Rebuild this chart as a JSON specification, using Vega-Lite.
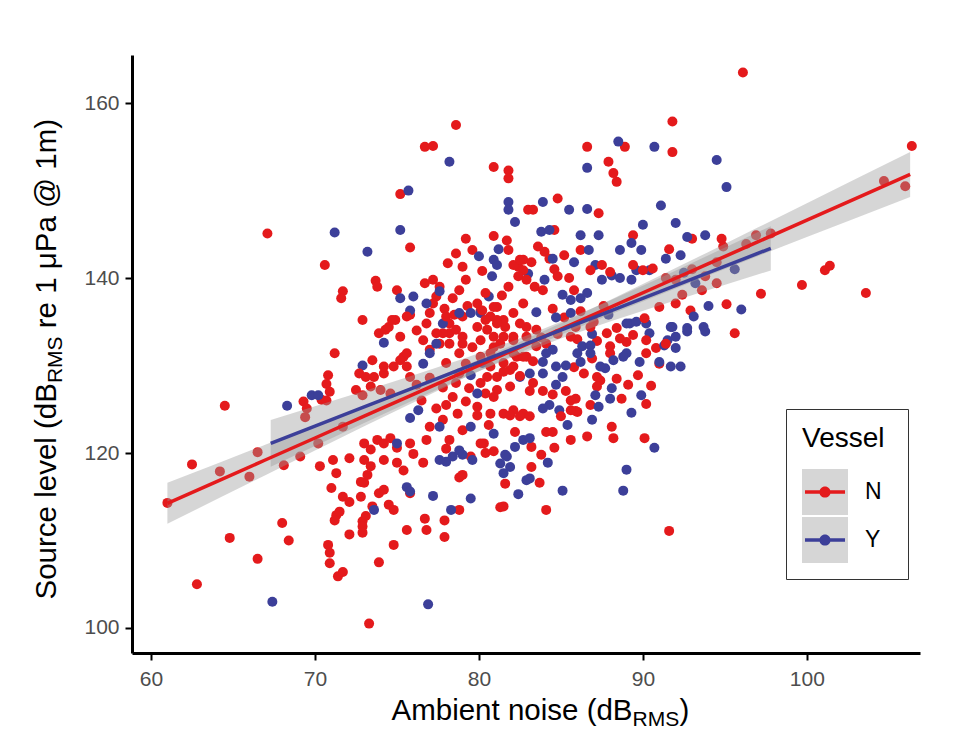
{
  "$schema": "https://vega.github.io/schema/vega-lite/v6.json",
  "width": 788,
  "height": 598,
  "autosize": {"type": "none"},
  "padding": {"left": 132, "top": 55, "right": 53, "bottom": 80},
  "background": "white",
  "config": {
    "view": {"stroke": null},
    "font": "Liberation Sans",
    "axis": {"grid": false, "labelFont": "Liberation Sans", "titleFont": "Liberation Sans", "titleFontWeight": "normal", "titleColor": "#000000"}
  },
  "datasets": {
    "points": [
      {"Vessel":"N","noise":61.0,"level":114.3},{"Vessel":"N","noise":62.5,"level":118.7},{"Vessel":"N","noise":62.8,"level":105.0},{"Vessel":"N","noise":64.5,"level":125.4},{"Vessel":"N","noise":64.2,"level":117.9},{"Vessel":"N","noise":64.8,"level":110.3},{"Vessel":"N","noise":66.5,"level":120.1},{"Vessel":"N","noise":66.0,"level":117.3},{"Vessel":"N","noise":66.5,"level":107.9},{"Vessel":"N","noise":67.1,"level":145.1},{"Vessel":"N","noise":68.0,"level":112.0},{"Vessel":"N","noise":68.4,"level":110.0},{"Vessel":"N","noise":73.3,"level":100.5},{"Vessel":"N","noise":70.8,"level":109.5},{"Vessel":"N","noise":70.9,"level":108.6},{"Vessel":"N","noise":70.9,"level":107.4},{"Vessel":"N","noise":71.4,"level":105.9},{"Vessel":"N","noise":71.7,"level":106.4},{"Vessel":"N","noise":73.9,"level":107.5},{"Vessel":"N","noise":72.1,"level":110.7},{"Vessel":"N","noise":72.9,"level":110.9},{"Vessel":"N","noise":74.8,"level":109.5},{"Vessel":"N","noise":75.6,"level":111.2},{"Vessel":"N","noise":76.7,"level":112.5},{"Vessel":"N","noise":76.8,"level":111.2},{"Vessel":"N","noise":77.9,"level":112.3},{"Vessel":"N","noise":77.9,"level":110.4},{"Vessel":"N","noise":81.3,"level":113.8},{"Vessel":"N","noise":78.8,"level":113.5},{"Vessel":"N","noise":71.0,"level":116.0},{"Vessel":"N","noise":71.7,"level":115.0},{"Vessel":"N","noise":72.1,"level":114.4},{"Vessel":"N","noise":72.8,"level":115.0},{"Vessel":"N","noise":73.0,"level":116.6},{"Vessel":"N","noise":73.9,"level":115.4},{"Vessel":"N","noise":74.2,"level":115.8},{"Vessel":"N","noise":71.3,"level":112.9},{"Vessel":"N","noise":71.5,"level":113.3},{"Vessel":"N","noise":71.2,"level":112.3},{"Vessel":"N","noise":72.9,"level":112.2},{"Vessel":"N","noise":73.1,"level":112.8},{"Vessel":"N","noise":74.5,"level":114.1},{"Vessel":"N","noise":74.8,"level":113.5},{"Vessel":"N","noise":75.8,"level":115.4},{"Vessel":"N","noise":78.8,"level":117.2},{"Vessel":"N","noise":70.3,"level":118.5},{"Vessel":"N","noise":71.3,"level":117.7},{"Vessel":"N","noise":71.1,"level":119.2},{"Vessel":"N","noise":72.1,"level":119.4},{"Vessel":"N","noise":72.8,"level":116.7},{"Vessel":"N","noise":73.5,"level":113.9},{"Vessel":"N","noise":72.9,"level":111.6},
      {"Vessel":"N","noise":71.2,"level":131.4},{"Vessel":"N","noise":70.8,"level":128.9},{"Vessel":"N","noise":70.7,"level":127.9},{"Vessel":"N","noise":70.9,"level":127.0},{"Vessel":"N","noise":70.4,"level":126.1},{"Vessel":"N","noise":70.7,"level":126.0},{"Vessel":"N","noise":69.3,"level":125.9},{"Vessel":"N","noise":69.5,"level":125.1},{"Vessel":"N","noise":72.5,"level":127.2},{"Vessel":"N","noise":72.9,"level":126.6},{"Vessel":"N","noise":73.6,"level":128.7},{"Vessel":"N","noise":74.2,"level":129.1},{"Vessel":"N","noise":74.8,"level":129.9},{"Vessel":"N","noise":75.4,"level":131.0},{"Vessel":"N","noise":75.6,"level":131.4},{"Vessel":"N","noise":73.9,"level":133.7},{"Vessel":"N","noise":74.3,"level":134.1},{"Vessel":"N","noise":73.0,"level":121.1},{"Vessel":"N","noise":73.4,"level":120.4},{"Vessel":"N","noise":73.8,"level":121.5},{"Vessel":"N","noise":74.2,"level":121.1},{"Vessel":"N","noise":74.6,"level":121.7},{"Vessel":"N","noise":75.0,"level":120.6},{"Vessel":"N","noise":73.0,"level":119.2},{"Vessel":"N","noise":73.4,"level":118.5},{"Vessel":"N","noise":73.2,"level":117.5},{"Vessel":"N","noise":74.2,"level":119.2},{"Vessel":"N","noise":75.0,"level":118.9},{"Vessel":"N","noise":75.4,"level":118.0},{"Vessel":"N","noise":76.0,"level":119.9},{"Vessel":"N","noise":75.8,"level":121.1},{"Vessel":"N","noise":76.6,"level":118.9},{"Vessel":"N","noise":76.8,"level":121.5},{"Vessel":"N","noise":77.0,"level":123.0},{"Vessel":"N","noise":77.4,"level":125.1},{"Vessel":"N","noise":77.8,"level":123.8},{"Vessel":"N","noise":78.4,"level":126.4},{"Vessel":"N","noise":78.7,"level":124.5},{"Vessel":"N","noise":79.0,"level":122.6},{"Vessel":"N","noise":79.9,"level":125.3},{"Vessel":"N","noise":80.3,"level":121.1},{"Vessel":"N","noise":80.7,"level":124.5},{"Vessel":"N","noise":81.1,"level":127.2},{"Vessel":"N","noise":81.5,"level":124.5},{"Vessel":"N","noise":82.1,"level":124.9},{"Vessel":"N","noise":82.7,"level":124.5},{"Vessel":"N","noise":81.9,"level":129.5},{"Vessel":"N","noise":82.3,"level":131.0},{"Vessel":"N","noise":81.1,"level":128.7},{"Vessel":"N","noise":80.1,"level":128.0},{"Vessel":"N","noise":80.9,"level":126.4},{"Vessel":"N","noise":78.8,"level":129.1},{"Vessel":"N","noise":78.0,"level":130.3},{"Vessel":"N","noise":77.0,"level":131.8},{"Vessel":"N","noise":76.6,"level":132.9},{"Vessel":"N","noise":77.6,"level":132.5},{"Vessel":"N","noise":78.2,"level":133.7},{"Vessel":"N","noise":79.0,"level":133.3},{"Vessel":"N","noise":80.1,"level":132.9},{"Vessel":"N","noise":80.9,"level":132.1},{"Vessel":"N","noise":81.5,"level":133.3},{"Vessel":"N","noise":79.5,"level":119.6},{"Vessel":"N","noise":79.0,"level":117.5},{"Vessel":"N","noise":78.0,"level":120.5},{"Vessel":"N","noise":78.2,"level":121.5},{"Vessel":"N","noise":81.6,"level":116.5},
      {"Vessel":"N","noise":70.6,"level":141.5},{"Vessel":"N","noise":71.7,"level":138.5},{"Vessel":"N","noise":71.6,"level":137.7},{"Vessel":"N","noise":73.7,"level":139.7},{"Vessel":"N","noise":73.8,"level":139.0},{"Vessel":"N","noise":72.9,"level":135.2},{"Vessel":"N","noise":74.5,"level":134.4},{"Vessel":"N","noise":74.9,"level":135.2},{"Vessel":"N","noise":75.0,"level":138.6},{"Vessel":"N","noise":75.8,"level":143.5},{"Vessel":"N","noise":75.2,"level":149.6},{"Vessel":"N","noise":76.7,"level":155.0},{"Vessel":"N","noise":77.2,"level":155.1},{"Vessel":"N","noise":78.6,"level":157.5},{"Vessel":"N","noise":80.9,"level":152.7},{"Vessel":"N","noise":81.8,"level":152.3},{"Vessel":"N","noise":81.8,"level":151.4},{"Vessel":"N","noise":83.0,"level":147.8},{"Vessel":"N","noise":75.8,"level":135.8},{"Vessel":"N","noise":76.7,"level":139.4},{"Vessel":"N","noise":77.2,"level":139.8},{"Vessel":"N","noise":77.6,"level":139.0},{"Vessel":"N","noise":77.4,"level":137.9},{"Vessel":"N","noise":77.2,"level":137.1},{"Vessel":"N","noise":78.1,"level":141.7},{"Vessel":"N","noise":78.6,"level":142.8},{"Vessel":"N","noise":79.2,"level":144.5},{"Vessel":"N","noise":79.6,"level":143.2},{"Vessel":"N","noise":79.0,"level":141.3},{"Vessel":"N","noise":79.2,"level":139.8},{"Vessel":"N","noise":78.8,"level":138.6},{"Vessel":"N","noise":78.4,"level":137.7},{"Vessel":"N","noise":79.0,"level":135.6},{"Vessel":"N","noise":79.9,"level":137.1},{"Vessel":"N","noise":80.1,"level":136.3},{"Vessel":"N","noise":80.7,"level":135.6},{"Vessel":"N","noise":81.1,"level":136.7},{"Vessel":"N","noise":81.5,"level":135.2},{"Vessel":"N","noise":82.1,"level":136.0},{"Vessel":"N","noise":82.7,"level":137.1},{"Vessel":"N","noise":82.9,"level":134.4},{"Vessel":"N","noise":81.8,"level":139.0},{"Vessel":"N","noise":82.4,"level":141.3},{"Vessel":"N","noise":82.7,"level":142.1},{"Vessel":"N","noise":77.8,"level":133.7},{"Vessel":"N","noise":78.2,"level":134.8},{"Vessel":"N","noise":79.0,"level":132.5},{"Vessel":"N","noise":82.1,"level":132.9},
      {"Vessel":"N","noise":77.0,"level":136.0},{"Vessel":"N","noise":77.9,"level":136.5},{"Vessel":"N","noise":78.5,"level":135.8},{"Vessel":"N","noise":79.3,"level":136.8},{"Vessel":"N","noise":76.2,"level":134.0},{"Vessel":"N","noise":80.2,"level":140.8},{"Vessel":"N","noise":81.4,"level":138.0},{"Vessel":"N","noise":83.2,"level":141.8},{"Vessel":"N","noise":83.6,"level":143.6},{"Vessel":"N","noise":84.6,"level":141.0},{"Vessel":"N","noise":80.9,"level":144.8},{"Vessel":"N","noise":85.2,"level":142.6},{"Vessel":"N","noise":76.2,"level":127.8},{"Vessel":"N","noise":77.0,"level":128.6},{"Vessel":"N","noise":77.8,"level":127.5},{"Vessel":"N","noise":78.6,"level":128.0},{"Vessel":"N","noise":79.4,"level":127.4},{"Vessel":"N","noise":76.5,"level":126.0},{"Vessel":"N","noise":79.2,"level":125.9},{"Vessel":"N","noise":80.4,"level":126.8},{"Vessel":"N","noise":80.6,"level":123.2},{"Vessel":"N","noise":78.0,"level":125.5},{"Vessel":"N","noise":80.9,"level":120.2},{"Vessel":"N","noise":82.2,"level":122.4},{"Vessel":"N","noise":83.8,"level":119.8},{"Vessel":"N","noise":84.6,"level":120.6},{"Vessel":"N","noise":85.6,"level":121.5},
      {"Vessel":"Y","noise":67.4,"level":103.0},{"Vessel":"Y","noise":76.9,"level":102.7},{"Vessel":"Y","noise":78.3,"level":113.5},{"Vessel":"Y","noise":79.5,"level":114.8},{"Vessel":"Y","noise":77.2,"level":115.1},{"Vessel":"Y","noise":75.6,"level":116.1},{"Vessel":"Y","noise":82.4,"level":115.3},{"Vessel":"Y","noise":73.6,"level":113.5},{"Vessel":"Y","noise":68.3,"level":125.4},{"Vessel":"Y","noise":69.8,"level":126.6},{"Vessel":"Y","noise":72.9,"level":130.0},{"Vessel":"Y","noise":74.2,"level":132.6},{"Vessel":"Y","noise":75.8,"level":124.0},{"Vessel":"Y","noise":77.6,"level":123.0},{"Vessel":"Y","noise":79.5,"level":123.0},{"Vessel":"Y","noise":80.9,"level":122.2},{"Vessel":"Y","noise":81.7,"level":119.6},{"Vessel":"Y","noise":81.3,"level":118.8},{"Vessel":"Y","noise":81.9,"level":118.4},{"Vessel":"Y","noise":81.5,"level":117.7},{"Vessel":"Y","noise":78.0,"level":119.0},{"Vessel":"Y","noise":78.4,"level":119.6},{"Vessel":"Y","noise":79.0,"level":119.8},{"Vessel":"Y","noise":79.9,"level":126.8},{"Vessel":"Y","noise":82.7,"level":121.5},{"Vessel":"Y","noise":82.9,"level":116.9},{"Vessel":"Y","noise":76.3,"level":124.9},{"Vessel":"Y","noise":78.2,"level":153.3},{"Vessel":"Y","noise":75.7,"level":150.0},{"Vessel":"Y","noise":75.2,"level":145.5},{"Vessel":"Y","noise":71.2,"level":145.2},{"Vessel":"Y","noise":73.2,"level":143.0},{"Vessel":"Y","noise":81.8,"level":148.7},{"Vessel":"Y","noise":81.8,"level":147.8},{"Vessel":"Y","noise":82.2,"level":146.4},{"Vessel":"Y","noise":81.2,"level":143.3},{"Vessel":"Y","noise":80.0,"level":142.5},{"Vessel":"Y","noise":80.9,"level":142.1},{"Vessel":"Y","noise":81.1,"level":141.5},{"Vessel":"Y","noise":80.8,"level":140.2},{"Vessel":"Y","noise":76.0,"level":137.9},{"Vessel":"Y","noise":75.2,"level":137.7},{"Vessel":"Y","noise":80.6,"level":137.9},{"Vessel":"Y","noise":79.5,"level":136.0},{"Vessel":"Y","noise":80.1,"level":136.0},{"Vessel":"Y","noise":77.8,"level":134.8},{"Vessel":"Y","noise":77.4,"level":132.5},{"Vessel":"Y","noise":75.8,"level":136.3},{"Vessel":"Y","noise":76.8,"level":137.1},{"Vessel":"Y","noise":77.6,"level":138.5},{"Vessel":"Y","noise":70.2,"level":126.6},{"Vessel":"Y","noise":77.0,"level":131.4},{"Vessel":"Y","noise":78.8,"level":136.0},{"Vessel":"Y","noise":77.6,"level":119.2},{"Vessel":"Y","noise":78.8,"level":120.3},{"Vessel":"Y","noise":79.6,"level":119.2},{"Vessel":"Y","noise":81.6,"level":119.8},{"Vessel":"Y","noise":83.1,"level":117.1},{"Vessel":"Y","noise":75.8,"level":115.6},{"Vessel":"Y","noise":75.0,"level":121.1},{"Vessel":"Y","noise":83.0,"level":140.5},{"Vessel":"Y","noise":84.0,"level":139.8},{"Vessel":"Y","noise":85.8,"level":141.8},{"Vessel":"Y","noise":76.6,"level":130.2},{"Vessel":"Y","noise":79.5,"level":128.9},{"Vessel":"Y","noise":80.2,"level":130.3},{"Vessel":"Y","noise":82.2,"level":120.7},{"Vessel":"Y","noise":84.2,"level":118.9},
      {"Vessel":"N","noise":96.1,"level":163.5},{"Vessel":"N","noise":91.8,"level":157.9},{"Vessel":"N","noise":91.8,"level":154.4},{"Vessel":"N","noise":86.6,"level":155.0},{"Vessel":"N","noise":88.9,"level":155.0},{"Vessel":"N","noise":87.9,"level":153.3},{"Vessel":"N","noise":88.2,"level":152.0},{"Vessel":"N","noise":88.4,"level":151.0},{"Vessel":"N","noise":84.8,"level":149.1},{"Vessel":"N","noise":83.3,"level":147.8},{"Vessel":"N","noise":87.3,"level":147.4},{"Vessel":"N","noise":84.6,"level":145.5},{"Vessel":"N","noise":81.7,"level":144.3},{"Vessel":"N","noise":81.8,"level":143.2},{"Vessel":"N","noise":84.0,"level":143.0},{"Vessel":"N","noise":84.3,"level":142.2},{"Vessel":"N","noise":86.2,"level":143.2},{"Vessel":"N","noise":89.4,"level":144.9},{"Vessel":"N","noise":91.6,"level":143.3},{"Vessel":"N","noise":93.0,"level":144.5},{"Vessel":"N","noise":94.8,"level":144.5},{"Vessel":"N","noise":94.9,"level":143.6},{"Vessel":"N","noise":96.3,"level":143.9},{"Vessel":"N","noise":96.9,"level":144.9},{"Vessel":"N","noise":97.8,"level":145.1},{"Vessel":"N","noise":94.5,"level":139.4},{"Vessel":"N","noise":92.4,"level":138.1},{"Vessel":"N","noise":95.6,"level":133.7},{"Vessel":"N","noise":97.2,"level":138.2},{"Vessel":"N","noise":99.7,"level":139.2},{"Vessel":"N","noise":101.1,"level":140.9},{"Vessel":"N","noise":101.4,"level":141.4},{"Vessel":"N","noise":103.6,"level":138.3},{"Vessel":"N","noise":106.4,"level":155.1},{"Vessel":"N","noise":104.7,"level":151.1},{"Vessel":"N","noise":106.0,"level":150.5},{"Vessel":"N","noise":90.2,"level":125.6},{"Vessel":"N","noise":90.1,"level":121.7},{"Vessel":"N","noise":91.6,"level":111.1},{"Vessel":"N","noise":88.1,"level":123.0},{"Vessel":"N","noise":88.2,"level":121.7},{"Vessel":"N","noise":86.6,"level":121.9},{"Vessel":"N","noise":84.1,"level":122.4},{"Vessel":"N","noise":84.5,"level":122.4},{"Vessel":"N","noise":83.2,"level":120.7},{"Vessel":"N","noise":83.2,"level":118.4},{"Vessel":"N","noise":83.7,"level":116.6},{"Vessel":"N","noise":84.1,"level":113.5},{"Vessel":"N","noise":81.5,"level":113.9},{"Vessel":"N","noise":91.0,"level":130.2},{"Vessel":"N","noise":90.2,"level":131.4},{"Vessel":"N","noise":90.8,"level":132.0},{"Vessel":"N","noise":87.4,"level":128.3},{"Vessel":"N","noise":87.2,"level":127.6},{"Vessel":"N","noise":85.9,"level":126.2},{"Vessel":"N","noise":86.0,"level":124.7},{"Vessel":"N","noise":86.4,"level":129.1},{"Vessel":"N","noise":89.0,"level":132.7},{"Vessel":"N","noise":88.0,"level":131.4},{"Vessel":"N","noise":81.9,"level":124.3},{"Vessel":"N","noise":82.5,"level":124.2},{"Vessel":"N","noise":83.1,"level":124.2},{"Vessel":"N","noise":79.9,"level":124.3},{"Vessel":"N","noise":80.1,"level":121.1},{"Vessel":"N","noise":80.4,"level":120.0},{"Vessel":"N","noise":82.1,"level":141.5},{"Vessel":"N","noise":82.5,"level":142.1},{"Vessel":"N","noise":82.7,"level":140.9},{"Vessel":"N","noise":82.4,"level":140.2},{"Vessel":"N","noise":82.9,"level":139.8},{"Vessel":"N","noise":83.4,"level":139.0},{"Vessel":"N","noise":83.9,"level":138.6},{"Vessel":"N","noise":84.8,"level":140.2},{"Vessel":"N","noise":85.5,"level":140.0},{"Vessel":"N","noise":85.8,"level":138.6},{"Vessel":"N","noise":80.4,"level":138.3},{"Vessel":"N","noise":80.9,"level":136.7},{"Vessel":"N","noise":80.2,"level":136.3},{"Vessel":"N","noise":80.4,"level":135.2},{"Vessel":"N","noise":81.1,"level":135.2},{"Vessel":"N","noise":81.6,"level":134.4},{"Vessel":"N","noise":82.1,"level":133.3},{"Vessel":"N","noise":82.5,"level":134.8},{"Vessel":"N","noise":82.9,"level":133.3},{"Vessel":"N","noise":83.5,"level":134.1},{"Vessel":"N","noise":81.3,"level":132.5},{"Vessel":"N","noise":82.1,"level":131.4},{"Vessel":"N","noise":82.9,"level":131.0},{"Vessel":"N","noise":83.5,"level":132.2},{"Vessel":"N","noise":84.1,"level":132.5},{"Vessel":"N","noise":80.7,"level":129.9},{"Vessel":"N","noise":81.5,"level":129.3},{"Vessel":"N","noise":80.5,"level":128.7},
      {"Vessel":"N","noise":84.5,"level":136.5},{"Vessel":"N","noise":85.2,"level":135.5},{"Vessel":"N","noise":86.2,"level":136.2},{"Vessel":"N","noise":87.0,"level":135.0},{"Vessel":"N","noise":87.6,"level":136.8},{"Vessel":"N","noise":86.0,"level":133.0},{"Vessel":"N","noise":84.8,"level":133.6},{"Vessel":"N","noise":83.8,"level":133.2},{"Vessel":"N","noise":87.2,"level":132.8},{"Vessel":"N","noise":85.8,"level":129.8},{"Vessel":"N","noise":86.9,"level":130.8},{"Vessel":"N","noise":88.4,"level":128.5},{"Vessel":"N","noise":89.1,"level":127.8},{"Vessel":"N","noise":88.7,"level":126.2},{"Vessel":"N","noise":86.8,"level":125.5},{"Vessel":"N","noise":89.7,"level":128.9},{"Vessel":"N","noise":90.5,"level":127.7},{"Vessel":"N","noise":93.0,"level":141.0},{"Vessel":"N","noise":93.8,"level":140.2},{"Vessel":"N","noise":94.5,"level":141.8},{"Vessel":"N","noise":92.9,"level":136.3},{"Vessel":"N","noise":95.1,"level":137.0},{"Vessel":"N","noise":93.6,"level":138.6},
      {"Vessel":"Y","noise":88.5,"level":155.6},{"Vessel":"Y","noise":90.7,"level":155.0},{"Vessel":"Y","noise":94.5,"level":153.5},{"Vessel":"Y","noise":95.1,"level":150.4},{"Vessel":"Y","noise":86.6,"level":152.6},{"Vessel":"Y","noise":91.1,"level":148.3},{"Vessel":"Y","noise":83.9,"level":148.7},{"Vessel":"Y","noise":85.5,"level":147.8},{"Vessel":"Y","noise":86.6,"level":147.9},{"Vessel":"Y","noise":83.8,"level":145.3},{"Vessel":"Y","noise":84.3,"level":145.5},{"Vessel":"Y","noise":86.2,"level":144.9},{"Vessel":"Y","noise":87.3,"level":144.9},{"Vessel":"Y","noise":90.0,"level":146.1},{"Vessel":"Y","noise":92.0,"level":146.3},{"Vessel":"Y","noise":92.7,"level":144.7},{"Vessel":"Y","noise":93.8,"level":144.9},{"Vessel":"Y","noise":92.3,"level":142.6},{"Vessel":"Y","noise":91.4,"level":142.2},{"Vessel":"Y","noise":89.9,"level":143.2},{"Vessel":"Y","noise":89.3,"level":144.0},{"Vessel":"Y","noise":88.6,"level":143.2},{"Vessel":"Y","noise":86.7,"level":143.2},{"Vessel":"Y","noise":93.1,"level":135.6},{"Vessel":"Y","noise":93.7,"level":134.4},{"Vessel":"Y","noise":92.7,"level":134.3},{"Vessel":"Y","noise":91.8,"level":134.4},{"Vessel":"Y","noise":91.5,"level":132.9},{"Vessel":"Y","noise":89.2,"level":134.8},{"Vessel":"Y","noise":89.3,"level":124.6},{"Vessel":"Y","noise":90.7,"level":120.6},{"Vessel":"Y","noise":89.0,"level":118.1},{"Vessel":"Y","noise":88.8,"level":115.7},{"Vessel":"Y","noise":85.1,"level":115.7},{"Vessel":"Y","noise":83.1,"level":121.7},{"Vessel":"Y","noise":87.3,"level":125.3},{"Vessel":"Y","noise":88.1,"level":127.4},{"Vessel":"Y","noise":87.1,"level":126.6},{"Vessel":"Y","noise":87.7,"level":129.7},{"Vessel":"Y","noise":89.8,"level":130.4},{"Vessel":"Y","noise":89.0,"level":131.4},{"Vessel":"Y","noise":92.3,"level":129.9},{"Vessel":"Y","noise":92.0,"level":132.0},{"Vessel":"Y","noise":91.3,"level":132.3},{"Vessel":"Y","noise":92.7,"level":133.9},{"Vessel":"Y","noise":93.8,"level":133.9},{"Vessel":"Y","noise":84.3,"level":125.5},{"Vessel":"Y","noise":84.9,"level":124.9},{"Vessel":"Y","noise":83.9,"level":125.1},{"Vessel":"Y","noise":84.7,"level":127.8},{"Vessel":"Y","noise":86.3,"level":132.2},{"Vessel":"Y","noise":86.8,"level":132.3},{"Vessel":"Y","noise":84.5,"level":131.8},{"Vessel":"Y","noise":83.1,"level":129.1},{"Vessel":"Y","noise":83.9,"level":130.4},{"Vessel":"Y","noise":84.5,"level":142.2},{"Vessel":"Y","noise":87.1,"level":141.5},{"Vessel":"Y","noise":87.5,"level":139.8},{"Vessel":"Y","noise":88.1,"level":140.3},{"Vessel":"Y","noise":88.6,"level":140.0},{"Vessel":"Y","noise":89.3,"level":139.8},{"Vessel":"Y","noise":89.6,"level":140.9},{"Vessel":"Y","noise":90.4,"level":140.9},{"Vessel":"Y","noise":85.1,"level":138.1},{"Vessel":"Y","noise":86.2,"level":137.7},{"Vessel":"Y","noise":86.6,"level":138.3},{"Vessel":"Y","noise":83.5,"level":136.1},{"Vessel":"Y","noise":84.7,"level":135.5},{"Vessel":"Y","noise":85.6,"level":137.5},{"Vessel":"Y","noise":89.0,"level":134.8},{"Vessel":"Y","noise":89.6,"level":135.0},{"Vessel":"Y","noise":90.2,"level":134.8},{"Vessel":"Y","noise":90.4,"level":133.7},{"Vessel":"Y","noise":91.7,"level":134.4},{"Vessel":"Y","noise":92.0,"level":133.3},{"Vessel":"Y","noise":91.0,"level":130.4},{"Vessel":"Y","noise":91.7,"level":129.9},{"Vessel":"Y","noise":86.8,"level":131.4},{"Vessel":"Y","noise":86.0,"level":131.4},{"Vessel":"Y","noise":86.2,"level":130.4},{"Vessel":"Y","noise":87.4,"level":129.9},{"Vessel":"Y","noise":88.2,"level":130.6},{"Vessel":"Y","noise":88.8,"level":131.0},{"Vessel":"Y","noise":84.1,"level":131.4},{"Vessel":"Y","noise":84.7,"level":129.9},{"Vessel":"Y","noise":85.1,"level":128.7},{"Vessel":"Y","noise":83.9,"level":129.1},{"Vessel":"Y","noise":82.5,"level":128.7},{"Vessel":"Y","noise":85.6,"level":136.0},{"Vessel":"Y","noise":87.9,"level":135.8},{"Vessel":"Y","noise":86.9,"level":133.6},{"Vessel":"Y","noise":85.3,"level":130.0},{"Vessel":"Y","noise":88.0,"level":126.2},{"Vessel":"Y","noise":89.9,"level":126.6},{"Vessel":"Y","noise":85.4,"level":123.2},{"Vessel":"Y","noise":86.9,"level":123.8},{"Vessel":"Y","noise":93.2,"level":139.4},{"Vessel":"Y","noise":94.0,"level":136.8},{"Vessel":"Y","noise":95.6,"level":141.0},{"Vessel":"Y","noise":96.0,"level":136.4},{"Vessel":"Y","noise":92.5,"level":140.6},
      {"Vessel":"N","noise":85.6,"level":133.3},{"Vessel":"N","noise":85.9,"level":134.4},{"Vessel":"N","noise":86.8,"level":134.4},{"Vessel":"N","noise":87.8,"level":133.7},{"Vessel":"N","noise":88.4,"level":134.3},{"Vessel":"N","noise":88.6,"level":133.1},{"Vessel":"N","noise":89.4,"level":133.5},{"Vessel":"N","noise":86.8,"level":140.9},{"Vessel":"N","noise":87.5,"level":141.5},{"Vessel":"N","noise":88.0,"level":140.7},{"Vessel":"N","noise":89.4,"level":141.5},{"Vessel":"N","noise":90.0,"level":140.9},{"Vessel":"N","noise":90.6,"level":141.1},{"Vessel":"N","noise":91.4,"level":140.0},{"Vessel":"N","noise":92.0,"level":139.8},{"Vessel":"N","noise":91.0,"level":136.7},{"Vessel":"N","noise":92.0,"level":137.1},{"Vessel":"N","noise":90.1,"level":135.4},{"Vessel":"N","noise":88.0,"level":132.2},{"Vessel":"N","noise":90.2,"level":132.9},{"Vessel":"N","noise":91.4,"level":132.5},{"Vessel":"N","noise":87.2,"level":128.7},{"Vessel":"N","noise":81.5,"level":130.3},{"Vessel":"N","noise":82.1,"level":129.9},{"Vessel":"N","noise":82.7,"level":131.0},{"Vessel":"N","noise":83.3,"level":130.5},{"Vessel":"N","noise":82.5,"level":128.8},{"Vessel":"N","noise":81.9,"level":127.6},{"Vessel":"N","noise":83.3,"level":128.0},{"Vessel":"N","noise":83.9,"level":127.1},{"Vessel":"N","noise":83.1,"level":127.1},{"Vessel":"N","noise":84.5,"level":126.7},{"Vessel":"N","noise":85.3,"level":127.1},{"Vessel":"N","noise":85.6,"level":126.0},{"Vessel":"N","noise":85.9,"level":124.8},{"Vessel":"N","noise":85.0,"level":124.2},{"Vessel":"N","noise":85.6,"level":124.9},{"Vessel":"N","noise":74.7,"level":135.2},{"Vessel":"N","noise":75.6,"level":135.6},{"Vessel":"N","noise":75.2,"level":133.3},{"Vessel":"N","noise":76.8,"level":134.8},{"Vessel":"N","noise":77.4,"level":133.7},{"Vessel":"N","noise":78.0,"level":135.6},{"Vessel":"N","noise":78.6,"level":134.1},{"Vessel":"N","noise":78.2,"level":132.5},{"Vessel":"N","noise":79.9,"level":134.4},{"Vessel":"N","noise":80.5,"level":134.1},{"Vessel":"N","noise":81.1,"level":134.8},{"Vessel":"N","noise":79.6,"level":132.1},{"Vessel":"N","noise":78.8,"level":131.4},{"Vessel":"N","noise":79.2,"level":130.2},{"Vessel":"N","noise":80.1,"level":131.0},{"Vessel":"N","noise":80.7,"level":131.4},{"Vessel":"N","noise":80.9,"level":133.3},{"Vessel":"N","noise":73.5,"level":130.6},{"Vessel":"N","noise":74.2,"level":129.9},{"Vessel":"N","noise":75.2,"level":130.6},{"Vessel":"N","noise":75.6,"level":129.9},{"Vessel":"N","noise":75.8,"level":128.7},{"Vessel":"N","noise":73.1,"level":128.7},{"Vessel":"N","noise":73.4,"level":127.6},{"Vessel":"N","noise":74.0,"level":127.2},{"Vessel":"N","noise":74.6,"level":126.8},{"Vessel":"N","noise":72.7,"level":129.1},{"Vessel":"N","noise":69.4,"level":124.1},{"Vessel":"N","noise":68.1,"level":118.6},{"Vessel":"N","noise":69.1,"level":119.6},{"Vessel":"N","noise":70.2,"level":121.1},{"Vessel":"N","noise":71.7,"level":123.0}
    ],
    "fit": [
      {"Vessel":"N","noise":61.0,"fit":114.25,"lo":111.91,"hi":116.59},
      {"Vessel":"N","noise":64.0,"fit":116.74,"lo":114.71,"hi":118.77},
      {"Vessel":"N","noise":67.0,"fit":119.23,"lo":117.50,"hi":120.97},
      {"Vessel":"N","noise":70.0,"fit":121.72,"lo":120.28,"hi":123.16},
      {"Vessel":"N","noise":73.0,"fit":124.21,"lo":123.05,"hi":125.37},
      {"Vessel":"N","noise":76.0,"fit":126.70,"lo":125.79,"hi":127.61},
      {"Vessel":"N","noise":79.0,"fit":129.19,"lo":128.49,"hi":129.89},
      {"Vessel":"N","noise":82.0,"fit":131.68,"lo":131.08,"hi":132.28},
      {"Vessel":"N","noise":85.0,"fit":134.17,"lo":133.52,"hi":134.83},
      {"Vessel":"N","noise":88.0,"fit":136.66,"lo":135.83,"hi":137.49},
      {"Vessel":"N","noise":91.0,"fit":139.15,"lo":138.07,"hi":140.23},
      {"Vessel":"N","noise":94.0,"fit":141.64,"lo":140.29,"hi":142.99},
      {"Vessel":"N","noise":97.0,"fit":144.13,"lo":142.49,"hi":145.77},
      {"Vessel":"N","noise":100.0,"fit":146.62,"lo":144.69,"hi":148.55},
      {"Vessel":"N","noise":103.0,"fit":149.11,"lo":146.88,"hi":151.35},
      {"Vessel":"N","noise":106.3,"fit":151.85,"lo":149.28,"hi":154.42},
      {"Vessel":"Y","noise":67.3,"fit":121.10,"lo":118.43,"hi":123.77},
      {"Vessel":"Y","noise":70.0,"fit":123.07,"lo":120.80,"hi":125.34},
      {"Vessel":"Y","noise":73.0,"fit":125.27,"lo":123.43,"hi":127.10},
      {"Vessel":"Y","noise":76.0,"fit":127.46,"lo":126.02,"hi":128.90},
      {"Vessel":"Y","noise":79.0,"fit":129.65,"lo":128.55,"hi":130.76},
      {"Vessel":"Y","noise":82.0,"fit":131.85,"lo":130.94,"hi":132.76},
      {"Vessel":"Y","noise":85.0,"fit":134.04,"lo":133.09,"hi":135.00},
      {"Vessel":"Y","noise":88.0,"fit":136.23,"lo":135.03,"hi":137.44},
      {"Vessel":"Y","noise":91.0,"fit":138.43,"lo":136.86,"hi":139.99},
      {"Vessel":"Y","noise":94.0,"fit":140.62,"lo":138.64,"hi":142.60},
      {"Vessel":"Y","noise":97.8,"fit":143.40,"lo":140.87,"hi":145.93}
    ]
  },
  "resolve": {"axis": {"x": "independent", "y": "independent"}},
  "layer": [
    {
      "data": {"name": "points"},
      "mark": {"type": "circle", "size": 100, "opacity": 1},
      "encoding": {
        "x": {"field": "noise", "type": "quantitative",
          "scale": {"domain": [58.84, 106.9], "nice": false, "zero": false},
          "axis": {"orient": "bottom", "values": [60, 70, 80, 90, 100], "domain": true, "domainColor": "#000000", "domainWidth": 3, "ticks": true, "tickColor": "#000000", "tickWidth": 2, "tickSize": 7, "labelFontSize": 21, "labelColor": "#4d4d4d", "labelPadding": 8,
            "title": "Ambient noise (dB", "titleFontSize": 29.5, "titleX": 259, "titleY": 66, "titleAlign": "left", "titleBaseline": "alphabetic", "titleAngle": 0}},
        "y": {"field": "level", "type": "quantitative",
          "scale": {"domain": [97.14, 165.5], "nice": false, "zero": false},
          "axis": {"orient": "left", "values": [100, 120, 140, 160], "domain": true, "domainColor": "#000000", "domainWidth": 3, "ticks": true, "tickColor": "#000000", "tickWidth": 2, "tickSize": 7, "labelFontSize": 21, "labelColor": "#4d4d4d", "labelPadding": 6,
            "title": "Source level (dB", "titleFontSize": 29.5, "titleX": -77, "titleY": 544, "titleAlign": "left", "titleBaseline": "alphabetic", "titleAngle": -90}},
        "color": {"field": "Vessel", "type": "nominal",
          "scale": {"domain": ["N", "Y"], "range": ["#e41a1c", "#3c3f99"]},
          "legend": {"orient": "none", "legendX": 654, "legendY": 354, "title": "Vessel", "titleFontSize": 28, "titleFontWeight": "normal", "titleColor": "#000000", "titlePadding": 16, "labelFontSize": 23, "labelColor": "#000000", "labelOffset": 20, "symbolType": "M-1,-0.09L1,-0.09L1,0.09L-1,0.09Z M0.28,0 A0.28,0.28 0 1 1 -0.28,0 A0.28,0.28 0 1 1 0.28,0 Z", "symbolSize": 1600, "symbolStrokeWidth": 0, "symbolOpacity": 1, "symbolOffset": 3, "clipHeight": 46, "rowPadding": 2, "padding": 16, "zindex": 2}}
      }
    },
    {
      "data": {"name": "fit"},
      "mark": {"type": "area", "opacity": 0.4},
      "encoding": {
        "x": {"field": "noise", "type": "quantitative",
          "scale": {"domain": [58.84, 106.9], "nice": false, "zero": false},
          "axis": {"orient": "bottom", "domain": false, "ticks": false, "labels": false, "title": "RMS", "titleFontSize": 21, "titleX": 500, "titleY": 72, "titleAlign": "left", "titleBaseline": "alphabetic", "titleAngle": 0}},
        "y": {"field": "lo", "type": "quantitative",
          "scale": {"domain": [97.14, 165.5], "nice": false, "zero": false},
          "axis": {"orient": "left", "domain": false, "ticks": false, "labels": false, "title": "RMS", "titleFontSize": 21, "titleX": -71, "titleY": 327.6, "titleAlign": "left", "titleBaseline": "alphabetic", "titleAngle": -90}},
        "y2": {"field": "hi"},
        "fill": {"field": "Vessel", "type": "nominal",
          "scale": {"range": ["#999999", "#999999"]},
          "legend": {"orient": "none", "legendX": 654, "legendY": 354, "title": " ", "titleFontSize": 28, "titlePadding": 16, "labelFontSize": 23, "labelExpr": "''", "labelOffset": 44, "symbolType": "square", "symbolSize": 2116, "symbolOpacity": 0.4, "symbolStrokeWidth": 0, "clipHeight": 46, "rowPadding": 2, "padding": 16, "strokeColor": "#333333", "zindex": 1}}
      }
    },
    {
      "data": {"name": "fit"},
      "mark": {"type": "line", "strokeWidth": 3.5},
      "encoding": {
        "x": {"field": "noise", "type": "quantitative",
          "scale": {"domain": [58.84, 106.9], "nice": false, "zero": false},
          "axis": {"orient": "bottom", "domain": false, "ticks": false, "labels": false, "title": ")", "titleFontSize": 29.5, "titleX": 547, "titleY": 66, "titleAlign": "left", "titleBaseline": "alphabetic", "titleAngle": 0}},
        "y": {"field": "fit", "type": "quantitative",
          "scale": {"domain": [97.14, 165.5], "nice": false, "zero": false},
          "axis": {"orient": "left", "domain": false, "ticks": false, "labels": false, "title": "re 1 μPa @ 1m)", "titleFontSize": 29.5, "titleX": -77, "titleY": 272.7, "titleAlign": "left", "titleBaseline": "alphabetic", "titleAngle": -90}},
        "color": {"field": "Vessel", "type": "nominal"}
      }
    }
  ]
}
